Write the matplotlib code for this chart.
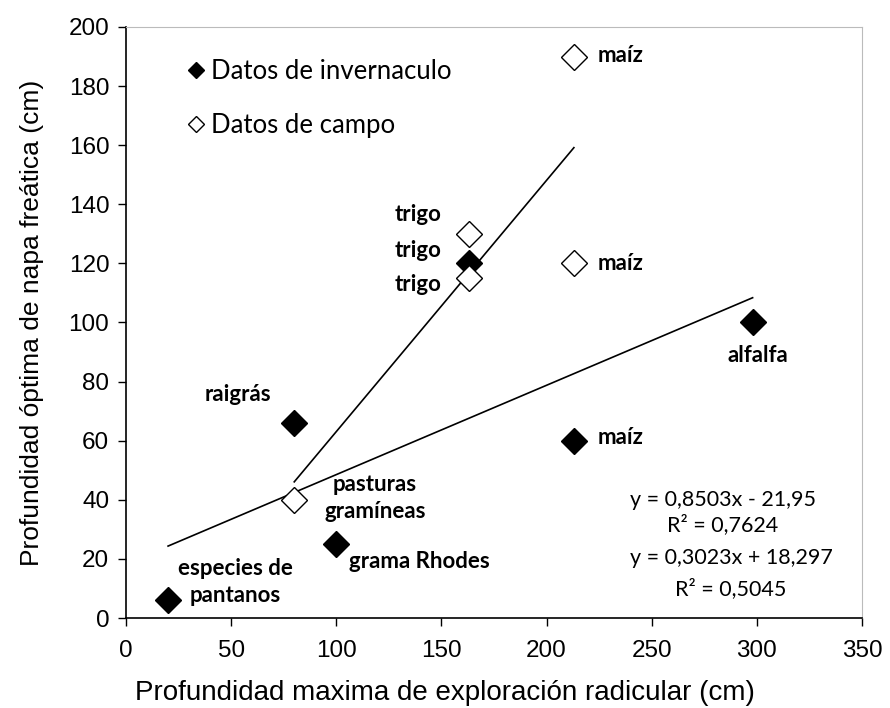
import matplotlib.pyplot as plt
import numpy as np

# greenhouse data (filled diamonds)
inv_x = [20, 80, 100, 163, 213, 298]
inv_y = [6, 66, 25, 120, 60, 100]
# field data (open diamonds)
campo_x = [80, 163, 163, 213, 213]
campo_y = [40, 130, 115, 120, 190]

# trendlines (Excel fits)
fit_campo = (0.8503, -21.95)
fit_inv = (0.3023, 18.297)

fig = plt.figure(figsize=(8.9, 7.08), dpi=100)
ax = fig.add_axes([0.1416, 0.1271, 0.8269, 0.8348])

bold = dict(family='Lato', fontsize=16, fontweight='bold')

xs = np.array([min(campo_x), max(campo_x)])
ax.plot(xs, fit_campo[0] * xs + fit_campo[1], color='black', lw=1.2, zorder=2)
xs = np.array([min(inv_x), max(inv_x)])
ax.plot(xs, fit_inv[0] * xs + fit_inv[1], color='black', lw=1.2, zorder=2)

ax.plot(inv_x, inv_y, 'D', color='black', markersize=13, ls='none',
        label='Datos de invernaculo', zorder=3)
ax.plot(campo_x, campo_y, 'D', mfc='white', mec='black', mew=1.0, markersize=13,
        ls='none', label='Datos de campo', zorder=3)

# point labels
ax.text(224.5, 190.2, 'maíz', ha='left', va='center', **bold)
ax.text(149.8, 136.4, 'trigo', ha='right', va='center', **bold)
ax.text(149.8, 124.5, 'trigo', ha='right', va='center', **bold)
ax.text(149.8, 112.7, 'trigo', ha='right', va='center', **bold)
ax.text(224.5, 120, 'maíz', ha='left', va='center', **bold)
ax.text(300.5, 89, 'alfalfa', ha='center', va='center', **bold)
ax.text(69, 75.5, 'raigrás', ha='right', va='center', **bold)
ax.text(224.5, 61, 'maíz', ha='left', va='center', **bold)
ax.text(118.4, 40.6, 'pasturas\ngramíneas', ha='center', va='center',
        linespacing=1.3, **bold)
ax.text(106, 19, 'grama Rhodes', ha='left', va='center', **bold)
ax.text(51.8, 12.2, 'especies de\npantanos', ha='center', va='center',
        linespacing=1.3, **bold)

# equations
eq = dict(family='Lato', fontsize=15.5, ha='center', va='center')
ax.text(283.9, 40, 'y = 0,8503x - 21,95', **eq)
ax.text(283.9, 31.5, 'R² = 0,7624', **eq)
ax.text(287.7, 20.3, 'y = 0,3023x + 18,297', **eq)
ax.text(287.7, 9.8, 'R² = 0,5045', **eq)

ax.set_xlim(0, 350)
ax.set_ylim(0, 200)
ax.set_xticks(np.arange(0, 351, 50))
ax.set_yticks(np.arange(0, 201, 20))
ax.tick_params(direction='out', length=6, width=1, labelsize=17.5, pad=6)
ax.tick_params(axis='x', pad=10)
for lab in ax.get_xticklabels() + ax.get_yticklabels():
    lab.set_family('Liberation Sans')

ax.set_xlabel('Profundidad maxima de exploración radicular (cm)',
              family='Liberation Sans', fontsize=20)
ax.xaxis.set_label_coords(0.433, -0.105)
ax.set_ylabel('Profundidad óptima de napa freática (cm)',
              family='Liberation Sans', fontsize=19, labelpad=18)

ax.spines['top'].set_color('#bbbbbb')
ax.spines['right'].set_color('#bbbbbb')
ax.spines['left'].set_linewidth(1.2)
ax.spines['bottom'].set_linewidth(1.2)

leg = ax.legend(loc='upper left', bbox_to_anchor=(0.053, 0.985), frameon=False,
                prop=dict(family='Lato', size=18.5), markerscale=0.6,
                handlelength=0.6, handletextpad=0.3, labelspacing=1.13)

fig.savefig('out.png', dpi=100)
